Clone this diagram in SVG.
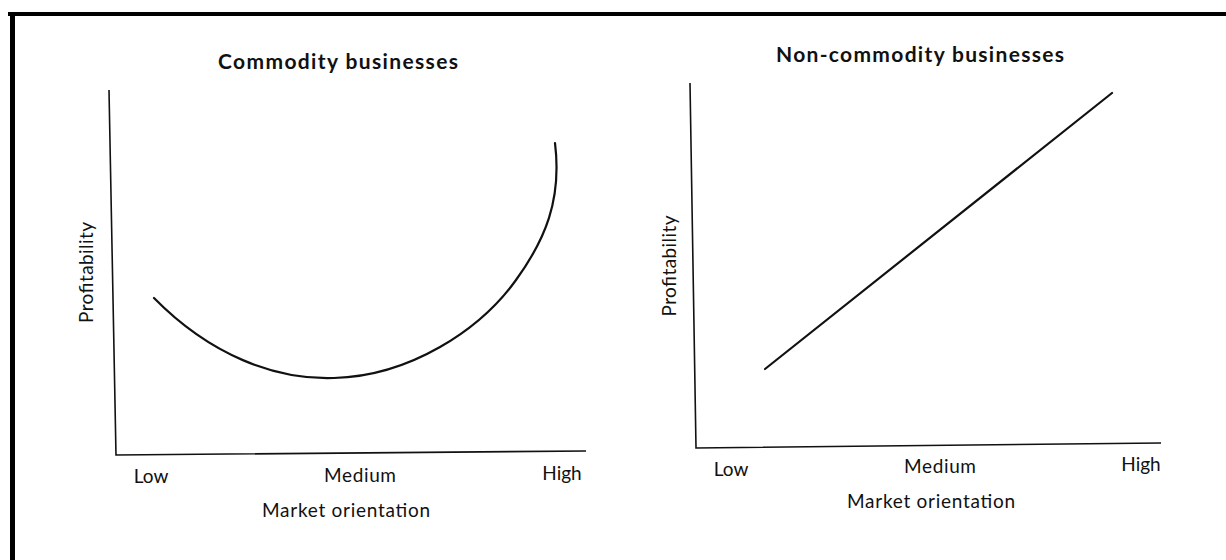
<svg xmlns="http://www.w3.org/2000/svg" width="1226" height="560" viewBox="0 0 1226 560">
<style>
.t{font-family:Lato,"Open Sans","Liberation Sans",sans-serif;fill:#111;}
.title{font-size:21px;font-weight:bold;text-anchor:middle;}
.lab{font-size:19px;text-anchor:middle;}
.ax{stroke:#111;stroke-width:1.6;fill:none;}
.cv{stroke:#111;stroke-width:2.2;fill:none;stroke-linecap:round;}
</style>
<rect width="1226" height="560" fill="#fff"/>
<g id="frame">
<line x1="8" y1="14" x2="1226" y2="14" stroke="#000" stroke-width="4"/>
<line x1="12.5" y1="12" x2="12.5" y2="560" stroke="#000" stroke-width="5"/>
</g>
<g id="chart-commodity">
<text class="t title" x="338" y="69" textLength="240" lengthAdjust="spacing">Commodity businesses</text>
<g id="left-axes" class="connectors">
<path class="ax" d="M109,90 L116,455 L586,451"/>
</g>
<path id="left-curve" class="cv" d="M154,298 C210,355 275,380 334,378 C410,376 480,330 516,280 C545,240 562,200 555,143"/>
<text class="t lab" transform="translate(93,272.5) rotate(-90)" textLength="101" lengthAdjust="spacing">Profitability</text>
<text class="t lab" x="151" y="483">Low</text>
<text class="t lab" x="360" y="482" textLength="72" lengthAdjust="spacing">Medium</text>
<text class="t lab" x="562" y="480">High</text>
<text class="t lab" x="346" y="517" textLength="168" lengthAdjust="spacing">Market orientation</text>
</g>
<g id="chart-noncommodity">
<text class="t title" x="920" y="62" textLength="288" lengthAdjust="spacing">Non-commodity businesses</text>
<g id="right-axes" class="connectors">
<path class="ax" d="M690,83 L696,448 L1161,443"/>
</g>
<line id="right-line" class="cv" x1="765" y1="369" x2="1112" y2="93"/>
<text class="t lab" transform="translate(676,266) rotate(-90)" textLength="101" lengthAdjust="spacing">Profitability</text>
<text class="t lab" x="731" y="476">Low</text>
<text class="t lab" x="940" y="473" textLength="72" lengthAdjust="spacing">Medium</text>
<text class="t lab" x="1141" y="471">High</text>
<text class="t lab" x="931" y="508" textLength="168" lengthAdjust="spacing">Market orientation</text>
</g>
</svg>
